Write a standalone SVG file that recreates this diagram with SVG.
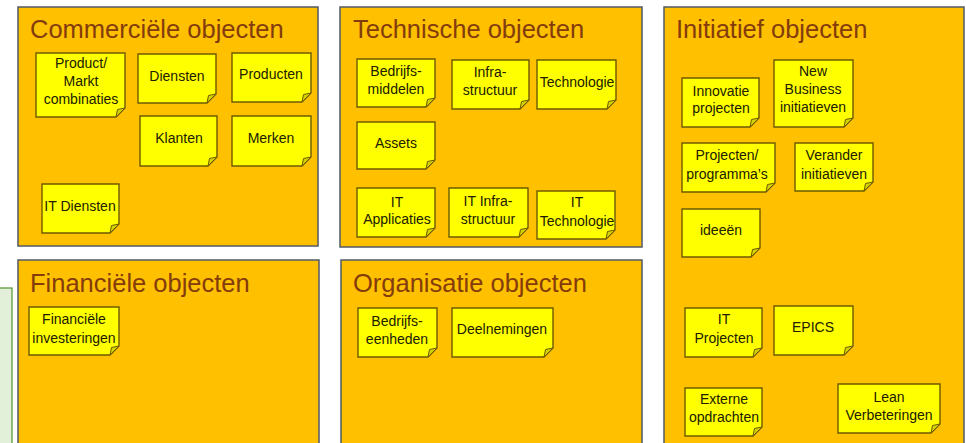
<svg xmlns="http://www.w3.org/2000/svg" width="966" height="443" viewBox="0 0 966 443">
<style>
.panel{fill:#FFC000;stroke:#505a66;stroke-width:1.5}
.green{fill:#E2F0D9;stroke:#5E9A3A;stroke-width:1.3}
.title{font-family:"Liberation Sans",Arial,sans-serif;font-size:25.5px;fill:#843C0C}
.note{fill:#FFFF00;stroke:#6E5A00;stroke-width:1.4;stroke-linejoin:miter}
.fold{fill:#D2D200;stroke:#6E5A00;stroke-width:1}
.nt{font-family:"Liberation Sans",Arial,sans-serif;font-size:14px;fill:#202000;text-anchor:middle}
</style>
<rect x="0" y="0" width="966" height="443" fill="#ffffff"/>
<g id="green-panel"><rect class="green" x="-10" y="288" width="22" height="200"/></g>

<g id="panel-commercieel">
<rect class="panel" x="18" y="7" width="300" height="239"/>
<text class="title" x="30" y="38">Commerciële objecten</text>
</g>
<g id="panel-technisch">
<rect class="panel" x="340" y="7" width="302" height="240"/>
<text class="title" x="353" y="38">Technische objecten</text>
</g>
<g id="panel-initiatief">
<rect class="panel" x="664" y="7" width="300" height="460"/>
<text class="title" x="676" y="38">Initiatief objecten</text>
</g>
<g id="panel-financieel">
<rect class="panel" x="18" y="260" width="301" height="210"/>
<text class="title" x="30" y="292">Financiële objecten</text>
</g>
<g id="panel-organisatie">
<rect class="panel" x="341" y="260" width="301" height="210"/>
<text class="title" x="353" y="292">Organisatie objecten</text>
</g>

<g id="n-pmc"><path class="note" d="M36 53H125V108L116 117H36Z"/><path class="fold" d="M125 108L116 117L117.5 109.5Z"/><text class="nt" x="81"><tspan x="81" y="68">Product/</tspan><tspan x="81" y="86">Markt</tspan><tspan x="81" y="104">combinaties</tspan></text></g>
<g id="n-diensten"><path class="note" d="M138 54H216V94L207 103H138Z"/><path class="fold" d="M216 94L207 103L208.5 95.5Z"/><text class="nt" x="177" y="81">Diensten</text></g>
<g id="n-producten"><path class="note" d="M232 53H311V93L302 102H232Z"/><path class="fold" d="M311 93L302 102L303.5 94.5Z"/><text class="nt" x="271" y="79">Producten</text></g>
<g id="n-klanten"><path class="note" d="M140 116H217V157L208 166H140Z"/><path class="fold" d="M217 157L208 166L209.5 158.5Z"/><text class="nt" x="179" y="143">Klanten</text></g>
<g id="n-merken"><path class="note" d="M232 116H311V157L302 166H232Z"/><path class="fold" d="M311 157L302 166L303.5 158.5Z"/><text class="nt" x="271" y="143">Merken</text></g>
<g id="n-itdiensten"><path class="note" d="M42 184H119V224L110 233H42Z"/><path class="fold" d="M119 224L110 233L111.5 225.5Z"/><text class="nt" x="80" y="211">IT Diensten</text></g>

<g id="n-bedrijfsmiddelen"><path class="note" d="M357 59H435V98L426 107H357Z"/><path class="fold" d="M435 98L426 107L427.5 99.5Z"/><text class="nt"><tspan x="396" y="76">Bedrijfs-</tspan><tspan x="396" y="94">middelen</tspan></text></g>
<g id="n-infrastructuur"><path class="note" d="M452 60H529V100L520 109H452Z"/><path class="fold" d="M529 100L520 109L521.5 101.5Z"/><text class="nt"><tspan x="490" y="77">Infra-</tspan><tspan x="490" y="95">structuur</tspan></text></g>
<g id="n-technologie"><path class="note" d="M537 60H616V100L607 109H537Z"/><path class="fold" d="M616 100L607 109L608.5 101.5Z"/><text class="nt" x="577" y="87">Technologie</text></g>
<g id="n-assets"><path class="note" d="M357 122H435V160L426 169H357Z"/><path class="fold" d="M435 160L426 169L427.5 161.5Z"/><text class="nt" x="396" y="148">Assets</text></g>
<g id="n-itapplicaties"><path class="note" d="M357 188H435V228L426 237H357Z"/><path class="fold" d="M435 228L426 237L427.5 229.5Z"/><text class="nt"><tspan x="397" y="207">IT</tspan><tspan x="397" y="224">Applicaties</tspan></text></g>
<g id="n-itinfrastructuur"><path class="note" d="M449 188H528V228L519 237H449Z"/><path class="fold" d="M528 228L519 237L520.5 229.5Z"/><text class="nt"><tspan x="488" y="206">IT Infra-</tspan><tspan x="488" y="224">structuur</tspan></text></g>
<g id="n-ittechnologie"><path class="note" d="M537 191H615V230L606 239H537Z"/><path class="fold" d="M615 230L606 239L607.5 231.5Z"/><text class="nt"><tspan x="577" y="207">IT</tspan><tspan x="577" y="226">Technologie</tspan></text></g>

<g id="n-innovatie"><path class="note" d="M682 78H759V118L750 127H682Z"/><path class="fold" d="M759 118L750 127L751.5 119.5Z"/><text class="nt"><tspan x="721" y="96">Innovatie</tspan><tspan x="721" y="113">projecten</tspan></text></g>
<g id="n-newbusiness"><path class="note" d="M774 60H853V118L844 127H774Z"/><path class="fold" d="M853 118L844 127L845.5 119.5Z"/><text class="nt"><tspan x="813" y="76">New</tspan><tspan x="813" y="94">Business</tspan><tspan x="813" y="112">initiatieven</tspan></text></g>
<g id="n-projecten"><path class="note" d="M682 143H775V183L766 192H682Z"/><path class="fold" d="M775 183L766 192L767.5 184.5Z"/><text class="nt"><tspan x="727" y="160">Projecten/</tspan><tspan x="727" y="179">programma’s</tspan></text></g>
<g id="n-verander"><path class="note" d="M795 143H873V182L864 191H795Z"/><path class="fold" d="M873 182L864 191L865.5 183.5Z"/><text class="nt"><tspan x="834" y="160">Verander</tspan><tspan x="834" y="179">initiatieven</tspan></text></g>
<g id="n-ideeen"><path class="note" d="M682 209H760V248L751 257H682Z"/><path class="fold" d="M760 248L751 257L752.5 249.5Z"/><text class="nt" x="721" y="235">ideeën</text></g>
<g id="n-itprojecten"><path class="note" d="M685 308H762V348L753 357H685Z"/><path class="fold" d="M762 348L753 357L754.5 349.5Z"/><text class="nt"><tspan x="724" y="324">IT</tspan><tspan x="724" y="343">Projecten</tspan></text></g>
<g id="n-epics"><path class="note" d="M774 306H853V346L844 355H774Z"/><path class="fold" d="M853 346L844 355L845.5 347.5Z"/><text class="nt" x="813" y="332">EPICS</text></g>
<g id="n-externe"><path class="note" d="M685 388H762V427L753 436H685Z"/><path class="fold" d="M762 427L753 436L754.5 428.5Z"/><text class="nt"><tspan x="724" y="404">Externe</tspan><tspan x="724" y="422">opdrachten</tspan></text></g>
<g id="n-lean"><path class="note" d="M838 384H940V424L931 433H838Z"/><path class="fold" d="M940 424L931 433L932.5 425.5Z"/><text class="nt"><tspan x="889" y="402">Lean</tspan><tspan x="889" y="420">Verbeteringen</tspan></text></g>

<g id="n-financieel"><path class="note" d="M29 307H119V346L110 355H29Z"/><path class="fold" d="M119 346L110 355L111.5 347.5Z"/><text class="nt"><tspan x="74" y="324">Financiële</tspan><tspan x="74" y="343">investeringen</tspan></text></g>

<g id="n-bedrijfseenheden"><path class="note" d="M358 308H437V348L428 357H358Z"/><path class="fold" d="M437 348L428 357L429.5 349.5Z"/><text class="nt"><tspan x="397" y="326">Bedrijfs-</tspan><tspan x="397" y="344">eenheden</tspan></text></g>
<g id="n-deelnemingen"><path class="note" d="M452 308H553V348L544 357H452Z"/><path class="fold" d="M553 348L544 357L545.5 349.5Z"/><text class="nt" x="502" y="334">Deelnemingen</text></g>

<g id="connectors"></g>
</svg>
